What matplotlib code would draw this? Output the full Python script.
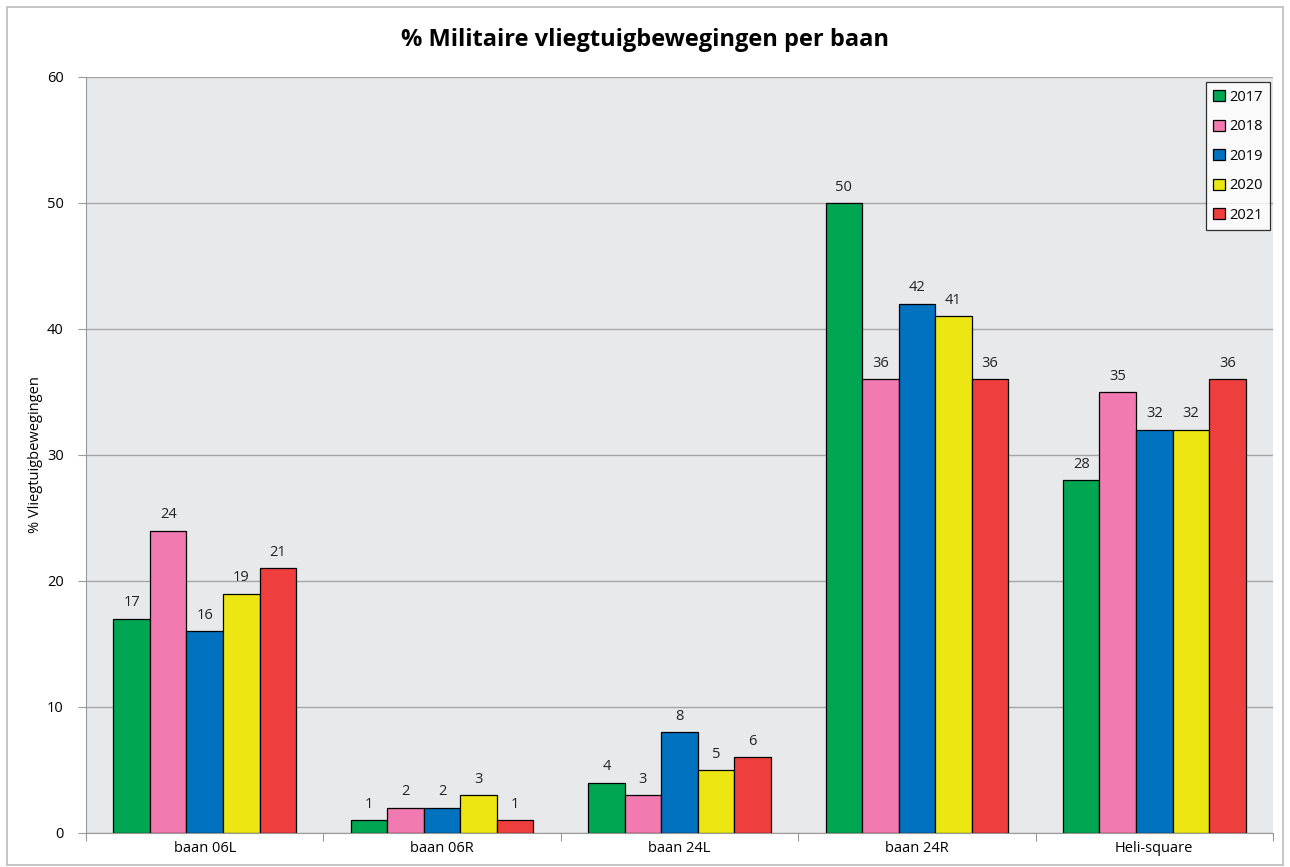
import matplotlib.pyplot as plt
import numpy as np
from matplotlib.patches import Rectangle

plt.rcParams['font.family'] = ['Open Sans', 'DejaVu Sans']

banen = ['baan 06L', 'baan 06R', 'baan 24L', 'baan 24R', 'Heli-square']
jaren = ['2017', '2018', '2019', '2020', '2021']
waarden = {
    '2017': [17, 1, 4, 50, 28],
    '2018': [24, 2, 3, 36, 35],
    '2019': [16, 2, 8, 42, 32],
    '2020': [19, 3, 5, 41, 32],
    '2021': [21, 1, 6, 36, 36],
}
kleuren = ['#00A651', '#F17AB0', '#0072C0', '#ECE712', '#EF3E3E']

fig = plt.figure(figsize=(12.9, 8.67), dpi=100)
fig.patches.append(Rectangle((7 / 1290, 2 / 867), 1276 / 1290, 858 / 867,
                             transform=fig.transFigure, fill=False,
                             edgecolor='#BBBBBB', linewidth=1.2))
ax = fig.add_axes([86 / 1290, 34 / 867, 1187 / 1290, 756 / 867])
ax.set_facecolor('#E8E9EB')

x = np.arange(len(banen))
breedte = 0.154
for i, jaar in enumerate(jaren):
    pos = x + (i - 2) * breedte
    bars = ax.bar(pos, waarden[jaar], breedte, color=kleuren[i],
                  edgecolor='black', linewidth=0.9, label=jaar, zorder=3)
    for b, v in zip(bars, waarden[jaar]):
        ax.annotate(str(v), (b.get_x() + b.get_width() / 2, v),
                    xytext=(0, 6), textcoords='offset points',
                    ha='center', va='bottom', fontsize=10.5, color='#222222')

ax.set_xlim(-0.5, len(banen) - 0.5)
ax.set_ylim(0, 60)
ax.set_yticks(range(0, 61, 10))
ax.yaxis.grid(True, color='#A6A6A6', linewidth=1, zorder=0)
ax.set_xticks(np.arange(len(banen) + 1) - 0.5)
ax.set_xticklabels([])
ax.set_xticks(x, minor=True)
ax.set_xticklabels(banen, minor=True, fontsize=10.5)
ax.tick_params(axis='x', which='minor', length=0, pad=6)
ax.tick_params(axis='x', which='major', length=6, color='#999999')
ax.tick_params(axis='y', length=6, color='#999999', labelsize=10.5, pad=10)
for s in ['top', 'right']:
    ax.spines[s].set_visible(False)
for s in ['left', 'bottom']:
    ax.spines[s].set_color('#999999')
ax.set_ylabel('% Vliegtuigbewegingen', fontsize=10.5, labelpad=3)

fig.suptitle('% Militaire vliegtuigbewegingen per baan', fontsize=17,
             fontweight='bold', y=0.968)

leg = ax.legend(loc='upper right', bbox_to_anchor=(0.9975, 0.993),
                fontsize=10.5, frameon=True, fancybox=False, handlelength=0.8,
                handleheight=0.8, handletextpad=0.3, labelspacing=1.0,
                borderpad=0.5, borderaxespad=0)
leg.get_frame().set_edgecolor('black')
leg.get_frame().set_facecolor('white')
leg.get_frame().set_linewidth(0.9)

fig.savefig('out.png', dpi=100)
